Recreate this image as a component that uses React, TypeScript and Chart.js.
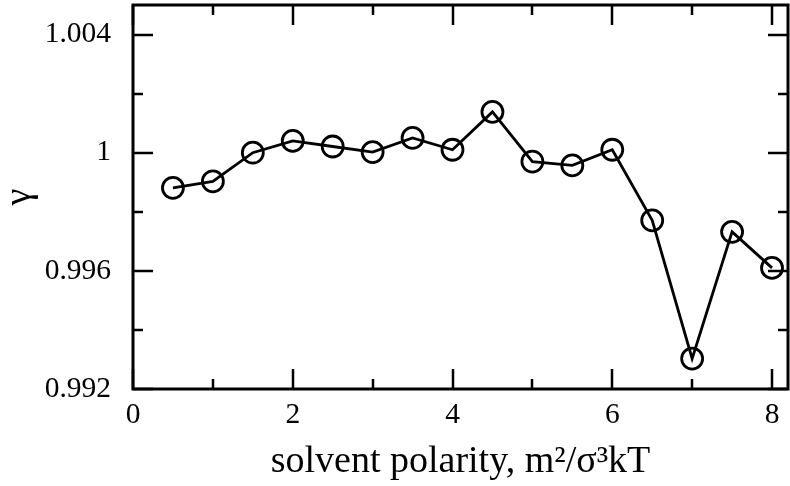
import React, { useEffect, useRef } from "react";
import { Chart, registerables } from "chart.js";
Chart.register(...registerables);

const polarity = [0.5, 1, 1.5, 2, 2.5, 3, 3.5, 4, 4.5, 5, 5.5, 6, 6.5, 7, 7.5, 8];
const gamma = [
  0.99881, 0.99903, 1.0, 1.0004, 1.00021, 1.00002, 1.0005, 1.0001,
  1.00138, 0.9997, 0.99957, 1.0001, 0.99771, 0.99303, 0.99732, 0.9961,
];
const xMajorTicks = [0, 2, 4, 6, 8];
const xMajorLabels = ["0", "2", "4", "6", "8"];
const xMinorTicks = [1, 3, 5, 7];
const yMajorTicks = [0.992, 0.996, 1, 1.004];
const yMajorLabels = ["0.992", "0.996", "1", "1.004"];
const yMinorTicks = [0.994, 0.998, 1.002];
const xTitle = "solvent polarity, m\u00B2/\u03C3\u00B3kT";
const yTitle = "\u03B3";
const xRange = [0, 8.2];
const yRange = [0.992, 1.005];

const FONT = "'Liberation Serif', 'Times New Roman', serif";

const framePlugin = {
  id: "frame",
  afterDraw(chart: any) {
    const { ctx, chartArea } = chart;
    const { left, right, top, bottom } = chartArea;
    const x = chart.scales.x;
    const y = chart.scales.y;
    ctx.save();
    ctx.strokeStyle = "#000";
    ctx.lineWidth = 2.5;
    ctx.beginPath();
    const xt = (vals: number[], len: number) => {
      for (const v of vals) {
        const px = Math.round(x.getPixelForValue(v));
        ctx.moveTo(px, bottom);
        ctx.lineTo(px, bottom - len);
        ctx.moveTo(px, top);
        ctx.lineTo(px, top + len);
      }
    };
    const yt = (vals: number[], len: number) => {
      for (const v of vals) {
        const py = Math.round(y.getPixelForValue(v));
        ctx.moveTo(left, py);
        ctx.lineTo(left + len, py);
        ctx.moveTo(right, py);
        ctx.lineTo(right - len, py);
      }
    };
    xt(xMajorTicks, 20);
    xt(xMinorTicks, 10);
    yt(yMajorTicks, 20);
    yt(yMinorTicks, 10);
    ctx.stroke();
    ctx.lineWidth = 3;
    ctx.strokeRect(left, top, right - left, bottom - top);
    ctx.restore();
  },
};

const zeroPad = (s: any) => {
  s.paddingTop = 0;
  s.paddingBottom = 0;
  s.paddingLeft = 0;
  s.paddingRight = 0;
};

export default function App() {
  const ref = useRef<HTMLCanvasElement | null>(null);
  useEffect(() => {
    if (!ref.current) return;
    const chart = new Chart(ref.current, {
      type: "line",
      data: {
        datasets: [
          {
            data: polarity.map((p, i) => ({ x: p, y: gamma[i] })),
            borderColor: "#000",
            borderWidth: 2.8,
            pointRadius: 10.5,
            pointBorderWidth: 2.8,
            pointBorderColor: "#000",
            pointBackgroundColor: "rgba(0,0,0,0)",
            pointStyle: "circle",
            fill: false,
            tension: 0,
          },
        ],
      },
      options: {
        responsive: false,
        animation: false,
        devicePixelRatio: 1,
        layout: { autoPadding: false, padding: { left: 0, right: 2, top: 5, bottom: 0 } },
        plugins: { legend: { display: false }, tooltip: { enabled: false } },
        scales: {
          x: {
            type: "linear",
            min: xRange[0],
            max: xRange[1],
            grid: { display: false },
            border: { display: false },
            afterBuildTicks: (s: any) => {
              s.ticks = xMajorTicks.map((v) => ({ value: v }));
            },
            afterFit: (s: any) => {
              s.height = 97;
              zeroPad(s);
            },
            ticks: {
              autoSkip: false,
              maxRotation: 0,
              includeBounds: false,
              padding: 1,
              color: "#000",
              font: { family: FONT, size: 29.5 },
              callback: (v: any, i: number) => xMajorLabels[i],
            },
            title: {
              display: true,
              text: xTitle,
              color: "#000",
              font: { family: FONT, size: 38, lineHeight: 1.2 },
              padding: { top: 0, bottom: 1 },
            },
          },
          y: {
            type: "linear",
            min: yRange[0],
            max: yRange[1],
            grid: { display: false },
            border: { display: false },
            afterBuildTicks: (s: any) => {
              s.ticks = yMajorTicks.map((v) => ({ value: v }));
            },
            afterFit: (s: any) => {
              s.width = 133;
              zeroPad(s);
            },
            ticks: {
              autoSkip: false,
              includeBounds: false,
              padding: 14,
              color: "#000",
              font: { family: FONT, size: 29.5 },
              callback: (v: any, i: number) => yMajorLabels[i],
            },
            title: {
              display: true,
              text: yTitle,
              color: "#000",
              font: { family: FONT, size: 38.5, lineHeight: 1.0 },
              padding: { top: 1, bottom: 0 },
            },
          },
        },
      },
      plugins: [framePlugin],
    });
    return () => chart.destroy();
  }, []);
  return (
    <div style={{ position: "absolute", left: 0, top: 0, width: 790, height: 486 }}>
      <canvas ref={ref} width={790} height={486} />
    </div>
  );
}
